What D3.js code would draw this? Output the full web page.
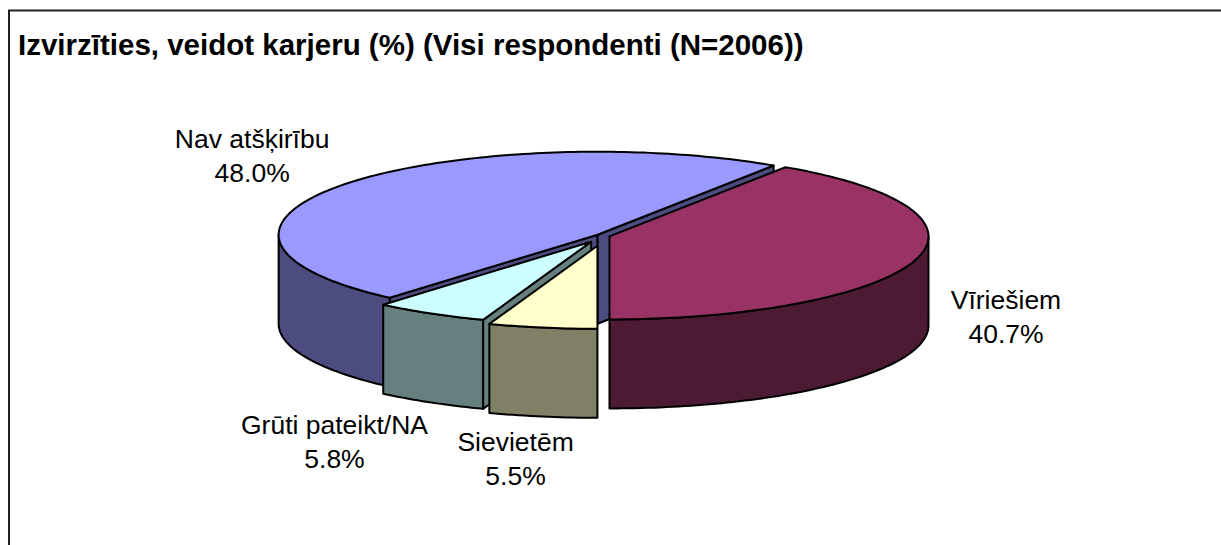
<!DOCTYPE html>
<html>
<head>
<meta charset="utf-8">
<script src="https://cdn.jsdelivr.net/npm/d3@7"></script>
<style>
  body { margin: 0; background: #fff; }
  svg { display: block; font-family: "Liberation Sans", Arial, sans-serif; }
</style>
</head>
<body>
<svg id="chart" width="1221" height="545"></svg>
<script>
// data
const categories = ["Nav atšķirību", "Vīriešiem", "Sievietēm", "Grūti pateikt/NA"];
const values = [48.0, 40.7, 5.5, 5.8];
const topColors = ["#9999FF", "#993366", "#FFFFCC", "#CCFFFF"];
const sideColors = ["#4C4C80", "#4D1A33", "#808066", "#668080"];
const explode = [0.025, 0.018, 0.12, 0.08];
// label nudges from the outer mid point of each slice
const labelNudge = [[-91, -30], [91, 56], [-27, 130], [-96, 128]];

const W = 1221, H = 545;
const cx = 604, cy = 236, rx = 319, ry = 83, depth = 89;

const svg = d3.select("#chart");

// frame (top and left edges visible)
svg.append("path")
  .attr("d", "M9,545 L9,10.5 L1221,10.5")
  .attr("fill", "none")
  .attr("stroke", "#222")
  .attr("stroke-width", 2);

svg.append("text")
  .attr("x", 18)
  .attr("y", 55)
  .style("font-weight", "bold")
  .style("font-size", "29.5px")
  .text("Izvirzīties, veidot karjeru (%) (Visi respondenti (N=2006))");

// pie angles: 0 at 12 o'clock, clockwise (same as d3.pie)
const a0 = Math.PI - (values[0] + values[1]) / d3.sum(values) * 2 * Math.PI;
const pie = d3.pie().sort(null).startAngle(a0).endAngle(a0 + 2 * Math.PI);
const arcs = pie(values);

const slices = arcs.map((d, i) => {
  const mid = (d.startAngle + d.endAngle) / 2;
  return {
    i: i,
    a: d.startAngle,
    b: d.endAngle,
    mid: mid,
    x0: cx + explode[i] * rx * Math.sin(mid),
    y0: cy - explode[i] * ry * Math.cos(mid)
  };
});

function pt(s, t, z) {
  return [s.x0 + rx * Math.sin(t), s.y0 - ry * Math.cos(t) + z];
}

function arcPts(s, t1, t2, z) {
  const n = Math.max(2, Math.ceil(Math.abs(t2 - t1) / 0.02));
  return d3.range(n + 1).map(k => pt(s, t1 + (t2 - t1) * k / n, z));
}

const line = d3.line();
const TAU = 2 * Math.PI;

// normal direction facing the viewer (screen down) when -cos(phi) > 0
function facesViewer(phi) { return -Math.cos(phi) > 1e-6; }

// visible part of the outer wall: angles in [PI/2, 3PI/2] (mod 2PI)
function wallRanges(s) {
  const out = [];
  for (let k = -1; k <= 1; k++) {
    const lo = Math.PI / 2 + k * TAU, hi = 3 * Math.PI / 2 + k * TAU;
    const t1 = Math.max(s.a, lo), t2 = Math.min(s.b, hi);
    if (t2 > t1) out.push([t1, t2]);
  }
  return out;
}

// back to front
const order = slices.slice().sort((p, q) => p.y0 - q.y0);

const g = svg.append("g")
  .attr("stroke", "#000")
  .attr("stroke-width", 2)
  .attr("stroke-linejoin", "round");

order.forEach(s => {
  const i = s.i;
  const tipTop = [s.x0, s.y0], tipBot = [s.x0, s.y0 + depth];
  // radial faces
  [[s.a, s.a - Math.PI / 2], [s.b, s.b + Math.PI / 2]].forEach(([t, n]) => {
    if (!facesViewer(n)) return;
    const q = [tipTop, pt(s, t, 0), pt(s, t, depth), tipBot];
    g.append("path").attr("d", line(q) + "Z").attr("fill", sideColors[i]);
  });
  // outer wall
  wallRanges(s).forEach(([t1, t2]) => {
    const q = arcPts(s, t1, t2, 0).concat(arcPts(s, t2, t1, depth));
    g.append("path").attr("d", line(q) + "Z").attr("fill", sideColors[i]);
  });
  // top face
  const top = [tipTop].concat(arcPts(s, s.a, s.b, 0));
  g.append("path").attr("d", line(top) + "Z").attr("fill", topColors[i]);
});

// labels
const fmt = d3.format(".1f");
slices.forEach(s => {
  const p = pt(s, s.mid, 0);
  const lx = p[0] + labelNudge[s.i][0];
  const ly = p[1] + labelNudge[s.i][1];
  const t = svg.append("text")
    .attr("text-anchor", "middle")
    .style("font-size", "26.5px")
    .attr("fill", "#000");
  t.append("tspan").attr("x", lx).attr("y", ly - 7).text(categories[s.i]);
  t.append("tspan").attr("x", lx).attr("y", ly + 27).text(fmt(values[s.i]) + "%");
});
</script>
</body>
</html>
